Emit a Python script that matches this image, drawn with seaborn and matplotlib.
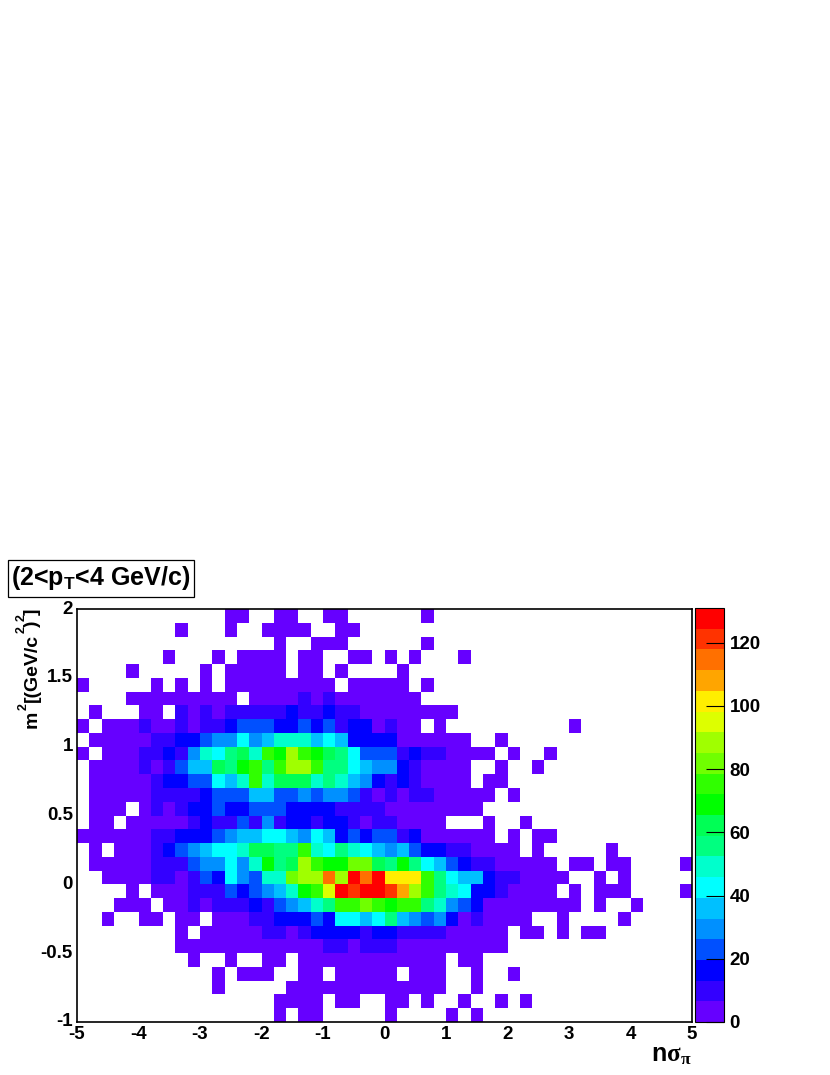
import numpy as np
import pandas as pd
import seaborn as sns
import matplotlib.pyplot as plt
from matplotlib.colors import ListedColormap
from matplotlib.patches import Rectangle

# 50 x 30 bins, top row is m2 = 2, left column is nsigma = -5, 0 = empty bin
row_00 = [0,0,0,0,0,0,0,0,0,0, 0,0,3,3,0,0,3,3,0,0, 3,3,0,0,0,0,0,0,3,0, 0,0,0,0,0,0,0,0,0,0, 0,0,0,0,0,0,0,0,0,0]
row_01 = [0,0,0,0,0,0,0,0,3,0, 0,0,3,0,0,3,3,3,3,0, 0,3,3,0,0,0,0,0,0,0, 0,0,0,0,0,0,0,0,0,0, 0,0,0,0,0,0,0,0,0,0]
row_02 = [0,0,0,0,0,0,0,0,0,0, 0,0,0,0,0,0,3,0,0,3, 3,3,0,0,0,0,0,0,3,0, 0,0,0,0,0,0,0,0,0,0, 0,0,0,0,0,0,0,0,0,0]
row_03 = [0,0,0,0,0,0,0,3,0,0, 0,3,0,3,3,3,3,0,3,3, 0,0,3,3,0,3,0,3,0,0, 0,3,0,0,0,0,0,0,0,0, 0,0,0,0,0,0,0,0,0,0]
row_04 = [0,0,0,0,3,0,0,0,0,0, 3,0,3,3,3,3,3,0,3,3, 0,3,0,0,0,0,3,0,0,0, 0,0,0,0,0,0,0,0,0,0, 0,0,0,0,0,0,0,0,0,0]
row_05 = [3,0,0,0,0,0,3,0,3,0, 3,0,3,3,3,3,3,3,3,3, 3,0,3,3,3,3,3,0,3,0, 0,0,0,0,0,0,0,0,0,0, 0,0,0,0,0,0,0,0,0,0]
row_06 = [0,0,0,0,3,3,3,3,3,3, 3,3,3,0,3,3,3,3,10,3, 10,3,3,3,3,3,3,3,0,0, 0,0,0,0,0,0,0,0,0,0, 0,0,0,0,0,0,0,0,0,0]
row_07 = [0,3,0,0,0,3,3,0,10,3, 10,3,10,10,10,10,10,16,10,10, 16,10,10,3,3,3,3,3,3,3, 3,0,0,0,0,0,0,0,0,0, 0,0,0,0,0,0,0,0,0,0]
row_08 = [3,0,3,3,3,10,3,3,10,3, 10,10,16,23,23,23,16,16,23,16, 23,10,16,16,3,10,3,3,0,3, 0,0,0,0,0,0,0,0,0,0, 3,0,0,0,0,0,0,0,0,0]
row_09 = [0,3,3,3,3,3,10,10,16,16, 23,29,29,43,29,36,49,49,49,36, 43,36,16,16,16,16,3,3,3,3, 3,3,0,0,3,0,0,0,0,0, 0,0,0,0,0,0,0,0,0,0]
row_10 = [3,0,3,3,3,10,10,16,10,29, 49,43,56,62,49,75,69,88,75,69, 62,56,43,23,23,23,10,16,10,10, 3,3,3,3,0,3,0,0,3,0, 0,0,0,0,0,0,0,0,0,0]
row_11 = [0,3,3,3,3,10,3,10,23,36, 36,62,56,69,75,56,75,88,88,75, 56,56,43,36,29,29,16,10,3,3, 3,3,0,0,3,0,0,3,0,0, 0,0,0,0,0,0,0,0,0,0]
row_12 = [0,3,3,3,3,3,10,16,16,23, 23,43,36,49,75,49,62,62,62,49, 56,49,36,29,16,10,16,10,3,3, 3,3,0,3,3,0,0,0,0,0, 0,0,0,0,0,0,0,0,0,0]
row_13 = [0,3,3,3,3,3,10,10,10,10, 16,23,23,23,36,36,23,23,29,23, 29,29,23,10,3,10,3,10,10,3, 3,3,3,3,0,3,0,0,0,0, 0,0,0,0,0,0,0,0,0,0]
row_14 = [0,3,3,3,0,3,10,3,10,16, 16,23,16,16,23,23,23,16,16,16, 16,10,10,10,10,3,3,3,3,3, 3,3,3,0,0,0,0,0,0,0, 0,0,0,0,0,0,0,0,0,0]
row_15 = [0,3,3,0,3,3,3,3,3,10, 16,10,10,23,10,29,10,16,16,10, 16,16,10,3,10,10,3,3,3,3, 0,0,0,3,0,0,3,0,0,0, 0,0,0,0,0,0,0,0,0,0]
row_16 = [3,3,3,3,3,3,10,10,16,16, 16,23,29,36,36,43,43,36,29,43, 36,16,23,16,23,23,10,16,3,3, 3,3,3,3,0,3,0,3,3,0, 0,0,0,0,0,0,0,0,0,0]
row_17 = [0,3,0,3,3,3,10,16,23,29, 36,43,43,49,62,62,56,56,75,49, 43,56,49,43,36,29,36,23,16,16, 10,10,3,3,3,3,0,3,0,0, 0,0,0,3,0,0,0,0,0,0]
row_18 = [0,3,3,3,3,3,10,10,10,23, 29,29,43,29,49,69,56,62,88,75, 69,69,82,82,62,56,69,56,43,36, 23,16,10,10,3,3,3,3,3,0, 3,3,0,3,3,0,0,0,0,3]
row_19 = [0,0,3,3,3,3,10,10,3,10, 23,16,43,29,23,49,49,82,88,88, 115,88,128,115,128,102,102,102,75,56, 43,36,36,16,10,10,3,3,3,3, 0,0,3,0,3,0,0,0,0,0]
row_20 = [0,0,0,0,3,0,3,3,3,10, 10,10,23,16,23,29,36,49,69,75, 95,128,121,128,128,121,108,88,75,56, 49,43,16,16,10,3,3,3,3,0, 3,0,3,3,3,0,0,0,0,3]
row_21 = [0,0,0,3,3,3,0,3,3,10, 3,10,10,10,16,10,23,29,36,49, 56,75,75,82,75,69,75,75,56,49, 29,23,16,3,3,3,3,3,3,3, 3,0,3,0,0,3,0,0,0,0]
row_22 = [0,0,3,0,0,3,3,0,3,3, 0,3,3,3,10,10,16,16,16,23, 16,43,43,36,43,56,36,29,23,29, 16,3,10,3,3,3,3,0,0,3, 0,0,0,0,3,0,0,0,0,0]
row_23 = [0,0,0,0,0,0,0,0,3,0, 3,3,3,3,3,10,10,3,10,16, 16,16,16,10,16,16,10,10,10,10, 3,3,3,3,3,0,3,3,0,3, 0,3,3,0,0,0,0,0,0,0]
row_24 = [0,0,0,0,0,0,0,0,3,3, 3,3,3,3,3,3,3,3,3,3, 10,10,3,10,10,10,3,3,3,3, 3,3,3,3,3,0,0,0,0,0, 0,0,0,0,0,0,0,0,0,0]
row_25 = [0,0,0,0,0,0,0,0,0,3, 0,0,3,0,0,3,3,0,3,3, 3,3,3,3,3,3,3,3,3,3, 0,3,3,0,0,0,0,0,0,0, 0,0,0,0,0,0,0,0,0,0]
row_26 = [0,0,0,0,0,0,0,0,0,0, 0,3,0,3,3,3,0,0,3,3, 0,3,3,3,3,3,0,3,3,3, 0,0,3,0,0,3,0,0,0,0, 0,0,0,0,0,0,0,0,0,0]
row_27 = [0,0,0,0,0,0,0,0,0,0, 0,3,0,0,0,0,0,3,3,3, 3,3,3,3,3,3,3,3,3,3, 0,0,3,0,0,0,0,0,0,0, 0,0,0,0,0,0,0,0,0,0]
row_28 = [0,0,0,0,0,0,0,0,0,0, 0,0,0,0,0,0,3,3,3,3, 0,3,3,0,0,3,3,0,3,0, 0,3,0,0,3,0,3,0,0,0, 0,0,0,0,0,0,0,0,0,0]
row_29 = [0,0,0,0,0,0,0,0,0,0, 0,0,0,0,0,0,3,0,3,3, 0,0,0,0,0,3,0,0,0,0, 3,0,3,0,0,0,0,0,0,0, 0,0,0,0,0,0,0,0,0,0]

counts = pd.DataFrame([
    row_00, row_01, row_02, row_03, row_04, row_05, row_06, row_07, row_08, row_09,
    row_10, row_11, row_12, row_13, row_14, row_15, row_16, row_17, row_18, row_19,
    row_20, row_21, row_22, row_23, row_24, row_25, row_26, row_27, row_28, row_29,
])

x_ticks = ['-5', '-4', '-3', '-2', '-1', '0', '1', '2', '3', '4', '5']
y_ticks = ['2', '1.5', '1', '0.5', '0', '-0.5', '-1']
cbar_ticks = [0, 20, 40, 60, 80, 100, 120]
z_max = 131

palette = ['#6600ff', '#3300ff', '#0000ff', '#0050ff', '#0090ff', '#00c0ff', '#00ffff',
           '#00ffcc', '#00ff80', '#00ff55', '#00ff00', '#30ff00', '#70ff00', '#a0ff00',
           '#ddff00', '#ffee00', '#ffa500', '#ff7000', '#ff3300', '#ff0000']

sns.set_style('white')
plt.rcParams['font.family'] = ['Liberation Sans', 'DejaVu Sans']
plt.rcParams['font.weight'] = 'bold'
plt.rcParams['text.color'] = 'black'
plt.rcParams['mathtext.fontset'] = 'custom'
plt.rcParams['mathtext.bf'] = 'Liberation Sans:bold'
plt.rcParams['mathtext.rm'] = 'Liberation Serif'

W, H = 830, 1075
fig = plt.figure(figsize=(W / 100, H / 100), dpi=100)
ax = fig.add_axes([77 / W, (H - 1022) / H, 615 / W, 413 / H])
cax = fig.add_axes([695 / W, (H - 1022) / H, 29 / W, 414 / H])

sns.heatmap(counts, mask=counts == 0, cmap=ListedColormap(palette), vmin=0, vmax=z_max,
            ax=ax, cbar_ax=cax, cbar_kws={'ticks': cbar_ticks})

ax.set_xticks(np.arange(0, 51, 5))
ax.set_xticklabels(x_ticks, rotation=0, fontsize=13.5, fontweight='bold', color='black')
ax.set_yticks(np.arange(0, 31, 5))
ax.set_yticklabels(y_ticks, rotation=0, fontsize=13.5, fontweight='bold', color='black')
ax.tick_params(length=0, pad=3)
for spine in ax.spines.values():
    spine.set_visible(True)
    spine.set_color('black')
    spine.set_linewidth(1.2)

cax.set_axisbelow(False)
cax.tick_params(right=True, direction='in', length=13, width=0.8, color='black',
                labelsize=13.5, labelcolor='black', pad=4)
for t in cax.get_yticklabels():
    t.set_fontweight('bold')
cbar = ax.collections[0].colorbar
cbar.outline.set_visible(True)
cbar.outline.set_edgecolor('black')
cbar.outline.set_linewidth(0.8)

fig.text(692 / W, 1 - 1055 / H, r'n$\mathrm{\sigma_{\pi}}$', ha='right', va='center',
         fontsize=18, fontweight='bold')


# y title is placed piece by piece, the superscripts sit high over the brackets
def ylabel_piece(s, x_px, y_px, size=14):
    fig.text(x_px / W, 1 - y_px / H, s, rotation=90, rotation_mode='anchor', ha='left',
             va='baseline', fontsize=size, fontweight='bold')


ylabel_piece('m', 37, 728)
ylabel_piece('2', 27, 710, 9)
ylabel_piece('[(GeV/c', 37, 702)
ylabel_piece('2', 25, 633, 9)
ylabel_piece(')', 37, 627)
ylabel_piece('2', 25, 621, 9)
ylabel_piece(']', 37, 615)

fig.add_artist(Rectangle((8 / W, 1 - 597 / H), 186 / W, 37 / H, transform=fig.transFigure,
                         facecolor='white', edgecolor='black', linewidth=0.9))
fig.text(101 / W, 1 - 578 / H, r'(2<p$\mathbf{_{T}}$<4 GeV/c)', ha='center', va='center',
         fontsize=18, fontweight='bold')

fig.savefig('out.png', dpi=100)
